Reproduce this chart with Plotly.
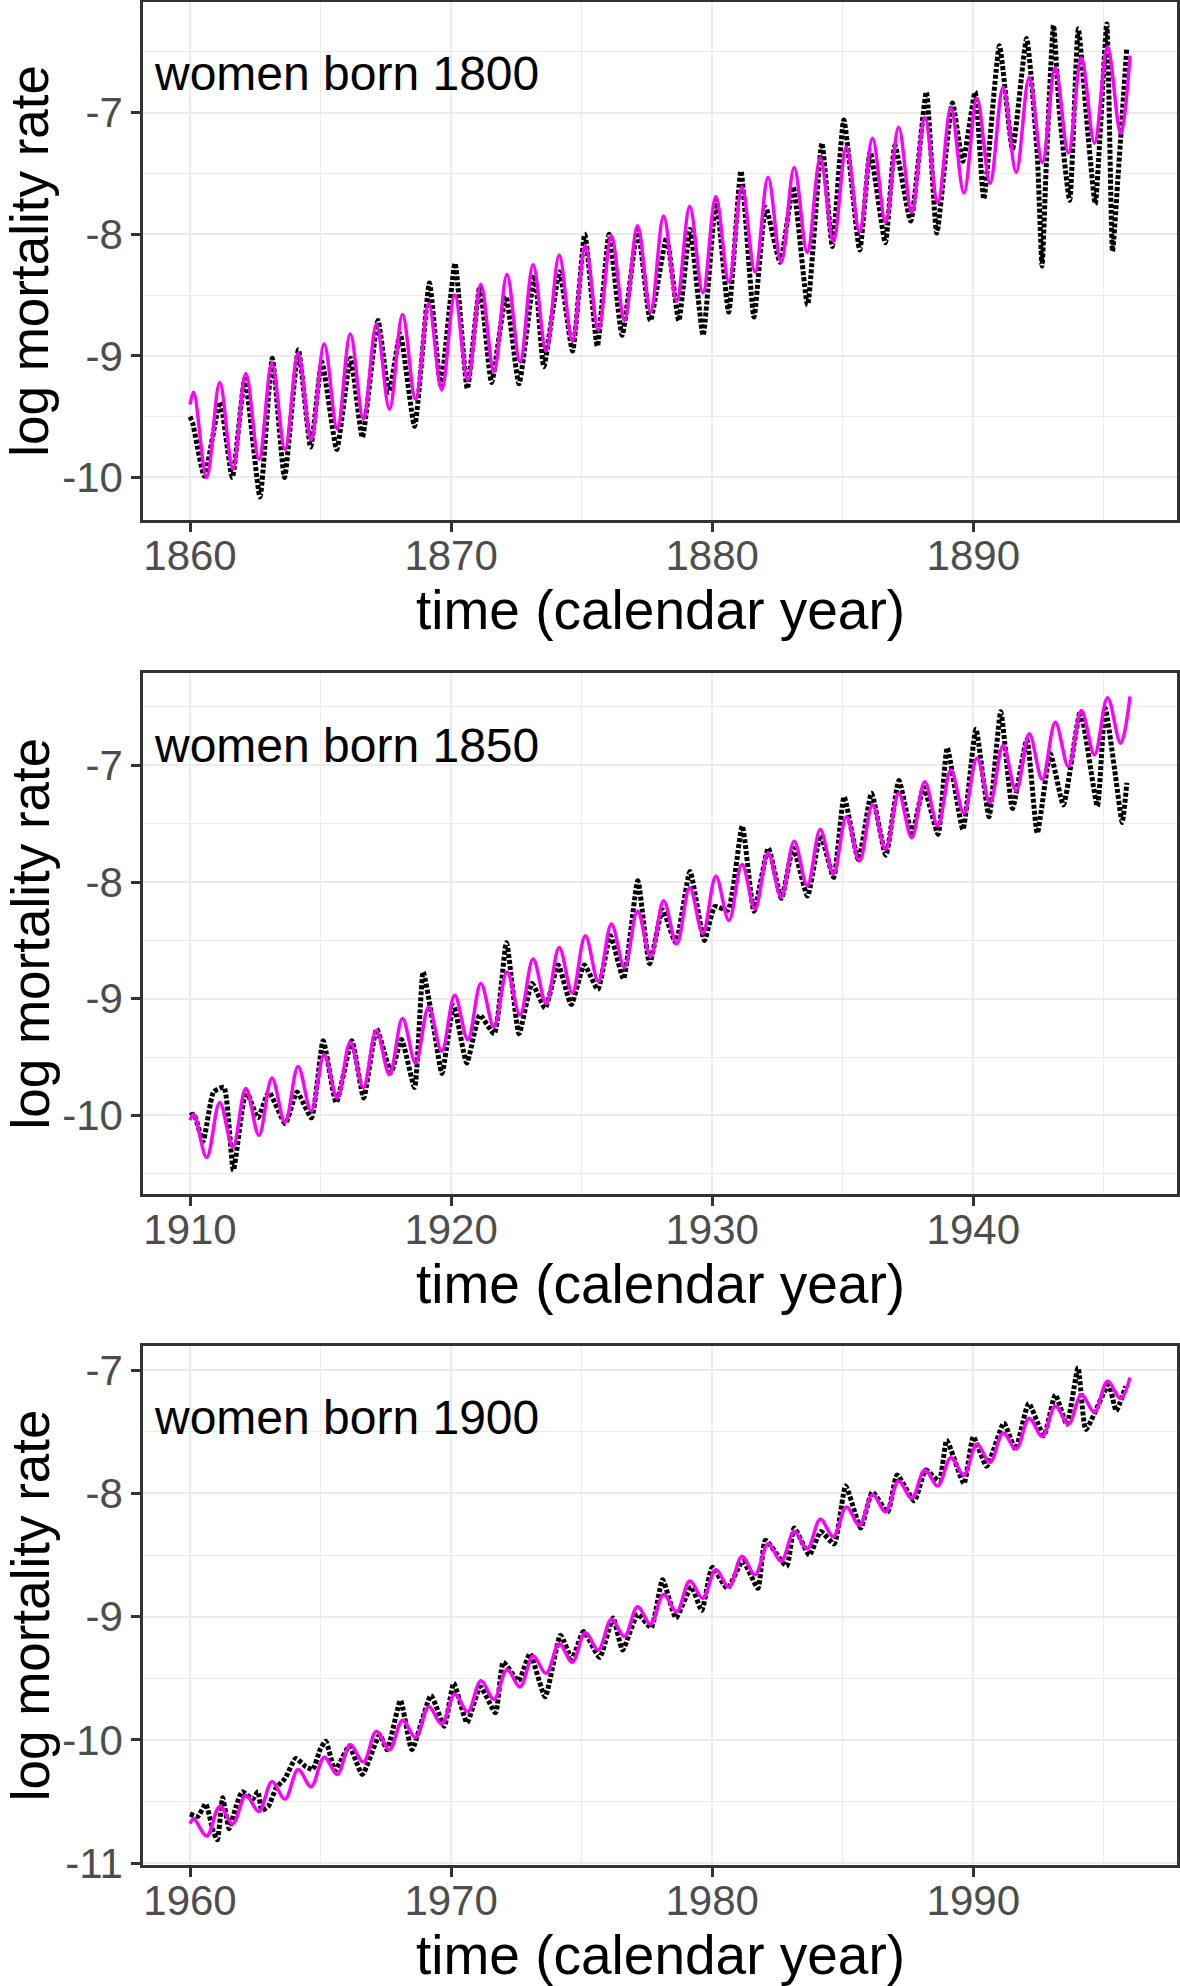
import plotly.graph_objects as go

# ---------------- data ----------------
# Panel 1: women born 1800, 1860-1896
p1_years = list(range(1860, 1896))
p1_fit_start, p1_fit_end = -9.40, -6.53
p1_fit_peak = [-9.30, -9.22, -9.145, -9.06, -8.98, -8.90, -8.82, -8.74, -8.66, -8.57,
               -8.50, -8.41, -8.33, -8.25, -8.17, -8.09, -8.01, -7.93, -7.85, -7.77,
               -7.69, -7.61, -7.53, -7.45, -7.37, -7.28, -7.21, -7.12, -7.04, -6.96,
               -6.88, -6.79, -6.71, -6.63, -6.55, -6.46]
p1_fit_trough = [-10.0, -9.93, -9.85, -9.77, -9.69, -9.60, -9.52, -9.44, -9.36, -9.28,
                 -9.20, -9.13, -9.05, -8.96, -8.88, -8.79, -8.71, -8.64, -8.55, -8.48,
                 -8.39, -8.31, -8.23, -8.15, -8.06, -7.98, -7.90, -7.82, -7.74, -7.66,
                 -7.58, -7.49, -7.41, -7.33, -7.25, -7.17]
p1_obs_t = [1860.0, 1860.1, 1860.55, 1861.15, 1861.62, 1862.1, 1862.68, 1863.15, 1863.62,
            1864.15, 1864.62, 1865.05, 1865.62, 1866.15, 1866.6, 1867.2, 1867.62, 1868.05,
            1868.6, 1869.17, 1869.6, 1870.15, 1870.62, 1871.1, 1871.55, 1872.1, 1872.6,
            1873.2, 1873.55, 1874.15, 1874.65, 1875.12, 1875.6, 1876.05, 1876.55, 1877.15,
            1877.63, 1878.25, 1878.72, 1879.15, 1879.65, 1880.15, 1880.63, 1881.1, 1881.6,
            1882.05, 1882.6, 1883.1, 1883.65, 1884.2, 1884.6, 1885.04, 1885.65, 1886.05,
            1886.63, 1887.0, 1887.6, 1888.2, 1888.6, 1889.2, 1889.6, 1890.07, 1890.4,
            1891.0, 1891.5, 1892.04, 1892.45, 1892.63, 1892.8, 1893.07, 1893.3, 1893.69,
            1894.02, 1894.4, 1894.67, 1895.11, 1895.33, 1895.55, 1895.87]
p1_obs_v = [-9.50, -9.55, -9.99, -9.38, -10.0, -9.19, -10.16, -9.02, -10.0,
            -8.95, -9.75, -9.05, -9.77, -9.02, -9.67, -8.71, -9.30, -8.82,
            -9.58, -8.40, -9.24, -8.24, -9.27, -8.43, -9.22, -8.51, -9.23,
            -8.34, -9.09, -8.31, -8.96, -8.00, -8.92, -8.00, -8.83, -7.96,
            -8.71, -8.03, -8.71, -7.96, -8.83, -7.72, -8.64, -7.48, -8.68,
            -7.78, -8.23, -7.61, -8.58, -7.25, -8.10, -7.06, -8.13, -7.32,
            -8.07, -7.27, -7.89, -6.83, -7.99, -6.92, -7.40, -6.83, -7.71,
            -6.45, -7.30, -6.39, -7.35, -8.26, -7.40, -6.28, -7.00, -7.72,
            -6.31, -7.20, -7.75, -6.27, -8.14, -7.50, -6.48]

# Panel 2: women born 1850, 1910-1946
p2_years = list(range(1910, 1946))
p2_fit_start, p2_fit_end = -10.04, -6.41
p2_fit_peak = [-9.99, -9.89, -9.77, -9.68, -9.58, -9.48, -9.37, -9.27, -9.17, -9.07,
               -8.97, -8.87, -8.77, -8.66, -8.56, -8.46, -8.36, -8.25, -8.16, -8.05,
               -7.95, -7.85, -7.75, -7.65, -7.55, -7.44, -7.34, -7.24, -7.14, -7.04,
               -6.94, -6.83, -6.73, -6.63, -6.53, -6.42]
p2_fit_trough = [-10.36, -10.27, -10.17, -10.06, -9.96, -9.85, -9.76, -9.65, -9.55, -9.45,
                 -9.35, -9.24, -9.14, -9.04, -8.95, -8.85, -8.73, -8.64, -8.53, -8.44,
                 -8.33, -8.23, -8.13, -8.03, -7.93, -7.82, -7.72, -7.62, -7.52, -7.41,
                 -7.32, -7.22, -7.12, -7.01, -6.91, -6.81]
p2_obs_t = [1910.0, 1910.15, 1910.5, 1910.9, 1911.3, 1911.66, 1912.15, 1912.6, 1913.02,
            1913.65, 1914.1, 1914.65, 1915.1, 1915.6, 1916.2, 1916.65, 1917.15, 1917.7,
            1918.1, 1918.6, 1918.93, 1919.3, 1919.65, 1920.1, 1920.6, 1921.1, 1921.65,
            1922.12, 1922.6, 1923.1, 1923.6, 1924.1, 1924.6, 1925.1, 1925.62, 1926.1,
            1926.6, 1927.15, 1927.6, 1928.1, 1928.6, 1929.15, 1929.7, 1930.1, 1930.6,
            1931.15, 1931.6, 1932.15, 1932.65, 1933.1, 1933.65, 1934.15, 1934.65, 1935.05,
            1935.6, 1936.1, 1936.65, 1937.15, 1937.65, 1938.1, 1938.65, 1939.0, 1939.6,
            1940.1, 1940.6, 1941.05, 1941.5, 1942.05, 1942.45, 1942.95, 1943.45, 1944.1,
            1944.75, 1945.05, 1945.45, 1945.7, 1945.88]
p2_obs_v = [-10.0, -9.99, -10.22, -9.80, -9.76, -10.47, -9.79, -10.02, -9.80,
            -10.07, -9.80, -10.02, -9.36, -9.89, -9.36, -9.85, -9.26, -9.63,
            -9.35, -9.76, -8.77, -9.20, -9.64, -9.06, -9.55, -9.14, -9.30,
            -8.52, -9.30, -8.87, -9.08, -8.71, -9.05, -8.71, -8.92, -8.46,
            -8.83, -7.99, -8.70, -8.24, -8.52, -7.91, -8.50, -8.21, -8.24,
            -7.52, -8.25, -7.71, -8.14, -7.71, -8.12, -7.60, -7.96, -7.27,
            -7.81, -7.24, -7.77, -7.13, -7.58, -7.19, -7.59, -6.85, -7.55,
            -6.69, -7.44, -6.54, -7.37, -6.78, -7.58, -6.90, -7.34, -6.54,
            -7.35, -6.51, -7.10, -7.49, -7.15]

# Panel 3: women born 1900, 1960-1996
p3_years = list(range(1960, 1996))
p3_fit_start, p3_fit_end = -10.68, -7.06
p3_fit_peak = [-10.64, -10.54, -10.45, -10.34, -10.24, -10.14, -10.04, -9.93, -9.84, -9.73,
               -9.63, -9.52, -9.43, -9.32, -9.22, -9.13, -9.02, -8.92, -8.82, -8.71,
               -8.62, -8.51, -8.41, -8.31, -8.21, -8.11, -8.01, -7.90, -7.81, -7.71,
               -7.60, -7.51, -7.39, -7.29, -7.20, -7.09]
p3_fit_trough = [-10.78, -10.68, -10.58, -10.48, -10.38, -10.28, -10.18, -10.08, -9.98, -9.87,
                 -9.77, -9.67, -9.57, -9.46, -9.37, -9.27, -9.16, -9.06, -8.96, -8.85,
                 -8.76, -8.66, -8.55, -8.45, -8.35, -8.26, -8.15, -8.04, -7.94, -7.85,
                 -7.75, -7.64, -7.54, -7.44, -7.34, -7.23]
p3_obs_t = [1960.0, 1960.3, 1960.6, 1960.9, 1961.05, 1961.25, 1961.5, 1961.75, 1962.0,
            1962.4, 1962.6, 1962.75, 1963.0, 1963.3, 1963.65, 1964.05, 1964.45, 1964.7,
            1965.0, 1965.2, 1965.55, 1965.75, 1966.1, 1966.6, 1967.26, 1967.55, 1968.06,
            1968.5, 1969.23, 1969.74, 1970.1, 1970.61, 1971.12, 1971.7, 1972.0, 1972.58,
            1973.02, 1973.6, 1974.19, 1974.63, 1975.07, 1975.69, 1976.2, 1976.57, 1977.15,
            1977.66, 1978.1, 1978.61, 1979.2, 1979.6, 1980.0, 1980.58, 1981.17, 1981.75,
            1982.04, 1982.85, 1983.14, 1983.72, 1984.16, 1984.67, 1985.11, 1985.69, 1986.13,
            1986.72, 1987.08, 1987.74, 1988.18, 1988.69, 1988.98, 1989.64, 1990.0, 1990.51,
            1991.17, 1991.61, 1992.12, 1992.7, 1993.14, 1993.58, 1994.01, 1994.31, 1995.18,
            1995.47, 1995.84]
p3_obs_v = [-10.60, -10.62, -10.52, -10.75, -10.81, -10.47, -10.72, -10.55, -10.42,
            -10.48, -10.42, -10.57, -10.54, -10.39, -10.31, -10.15, -10.22, -10.24,
            -10.07, -10.01, -10.25, -10.18, -10.05, -10.28, -9.96, -10.08, -9.68,
            -10.08, -9.64, -9.89, -9.54, -9.86, -9.57, -9.78, -9.37, -9.52,
            -9.30, -9.65, -9.15, -9.34, -9.12, -9.33, -9.01, -9.27, -8.98,
            -9.09, -8.70, -9.01, -8.76, -8.95, -8.60, -8.77, -8.55, -8.77,
            -8.38, -8.59, -8.28, -8.50, -8.31, -8.41, -7.94, -8.28, -7.99,
            -8.15, -7.85, -8.06, -7.81, -7.90, -7.57, -7.92, -7.54, -7.78,
            -7.43, -7.64, -7.27, -7.53, -7.20, -7.44, -6.98, -7.48, -7.12,
            -7.33, -7.13]

labels = ["women born 1800", "women born 1850", "women born 1900"]
x_ticks = [[1860, 1870, 1880, 1890], [1910, 1920, 1930, 1940], [1960, 1970, 1980, 1990]]
y_ticks = [[-10, -9, -8, -7], [-10, -9, -8, -7], [-11, -10, -9, -8, -7]]

# ---------------- layout helpers ----------------
W, H = 1180, 1986
FONT = "Liberation Sans, Arial, Helvetica, sans-serif"
def px(x):
    return x / W
def py(y):
    return 1 - y / H

# panel boxes in pixels: (left, top, right, bottom)
boxes = [(143, 1.5, 1177, 520), (143, 673, 1177, 1194), (143, 1345.5, 1177, 1865)]
xranges = [[1858.2, 1897.8], [1908.2, 1947.8], [1958.2, 1997.8]]
yranges = [[-10.35, -6.085], [-10.673, -6.209], [-11.015, -6.80]]


def fit_series(years, start, end, peaks, troughs):
    t = [years[0]]
    v = [start]
    for yr, pk, tr in zip(years, peaks, troughs):
        t += [yr + 0.14, yr + 0.64]
        v += [pk, tr]
    t.append(years[-1] + 1)
    v.append(end)
    return t, v


fig = go.Figure()
panels = [
    (p1_years, p1_fit_start, p1_fit_end, p1_fit_peak, p1_fit_trough, p1_obs_t, p1_obs_v),
    (p2_years, p2_fit_start, p2_fit_end, p2_fit_peak, p2_fit_trough, p2_obs_t, p2_obs_v),
    (p3_years, p3_fit_start, p3_fit_end, p3_fit_peak, p3_fit_trough, p3_obs_t, p3_obs_v),
]

annotations = []
for i, (yrs, fs, fe, pk, tr, ot, ov) in enumerate(panels):
    ax = "" if i == 0 else str(i + 1)
    fig.add_trace(go.Scatter(x=ot, y=ov, mode="lines", xaxis="x" + ax, yaxis="y" + ax,
                             line=dict(color="black", width=5, dash="4px,2px", shape="spline",
                                       smoothing=0.5),
                             showlegend=False, hoverinfo="skip"))
    ft, fv = fit_series(yrs, fs, fe, pk, tr)
    fig.add_trace(go.Scatter(x=ft, y=fv, mode="lines", xaxis="x" + ax, yaxis="y" + ax,
                             line=dict(color="#FF00FF", width=3.5, shape="spline", smoothing=1.0),
                             showlegend=False, hoverinfo="skip"))
    l, t, r, b = boxes[i]
    common = dict(showline=True, mirror=True, linecolor="#333333", linewidth=2.5,
                  ticks="outside", ticklen=9, tickwidth=2.5, tickcolor="#333333",
                  showgrid=True, gridcolor="#ebebeb", gridwidth=2.4, zeroline=False,
                  automargin=False,
                  tickfont=dict(family=FONT, size=42, color="#4d4d4d"))
    fig.layout["xaxis" + ax] = dict(
        common, domain=[px(l), px(r)], range=xranges[i], tickvals=x_ticks[i],
        ticktext=[str(v) for v in x_ticks[i]], anchor="y" + ax, ticklabelstandoff=-12,
        minor=dict(tick0=1855, dtick=10, showgrid=True, gridcolor="#ebebeb", gridwidth=1.2))
    fig.layout["yaxis" + ax] = dict(
        common, domain=[py(b), py(t)], range=yranges[i], tickvals=y_ticks[i],
        ticktext=[str(v) for v in y_ticks[i]], anchor="x" + ax,
        minor=dict(tick0=-6.5, dtick=1, showgrid=True, gridcolor="#ebebeb", gridwidth=1.2))
    # panel label
    annotations.append(dict(text=labels[i], xref="paper", yref="paper",
                            x=px(152), y=py(t + 72), xanchor="left", yanchor="middle",
                            showarrow=False, font=dict(family=FONT, size=48, color="black")))
    # x-axis title
    annotations.append(dict(text="time (calendar year)", xref="paper", yref="paper",
                            x=px((l + r) / 2), y=py(b + 90), xanchor="center", yanchor="middle",
                            showarrow=False, font=dict(family=FONT, size=55, color="black")))
    # y-axis title
    annotations.append(dict(text="log mortality rate", xref="paper", yref="paper",
                            x=px(30), y=py((t + b) / 2), xanchor="center", yanchor="middle",
                            textangle=-90, showarrow=False,
                            font=dict(family=FONT, size=53, color="black")))

fig.update_layout(width=W, height=H, margin=dict(l=0, r=0, t=0, b=0, autoexpand=False),
                  paper_bgcolor="white", plot_bgcolor="white",
                  annotations=annotations, showlegend=False)

fig.write_html("out.html", config={"displayModeBar": False},
               post_script="document.body.style.margin='0';"
                           "document.body.style.overflow='hidden';")
